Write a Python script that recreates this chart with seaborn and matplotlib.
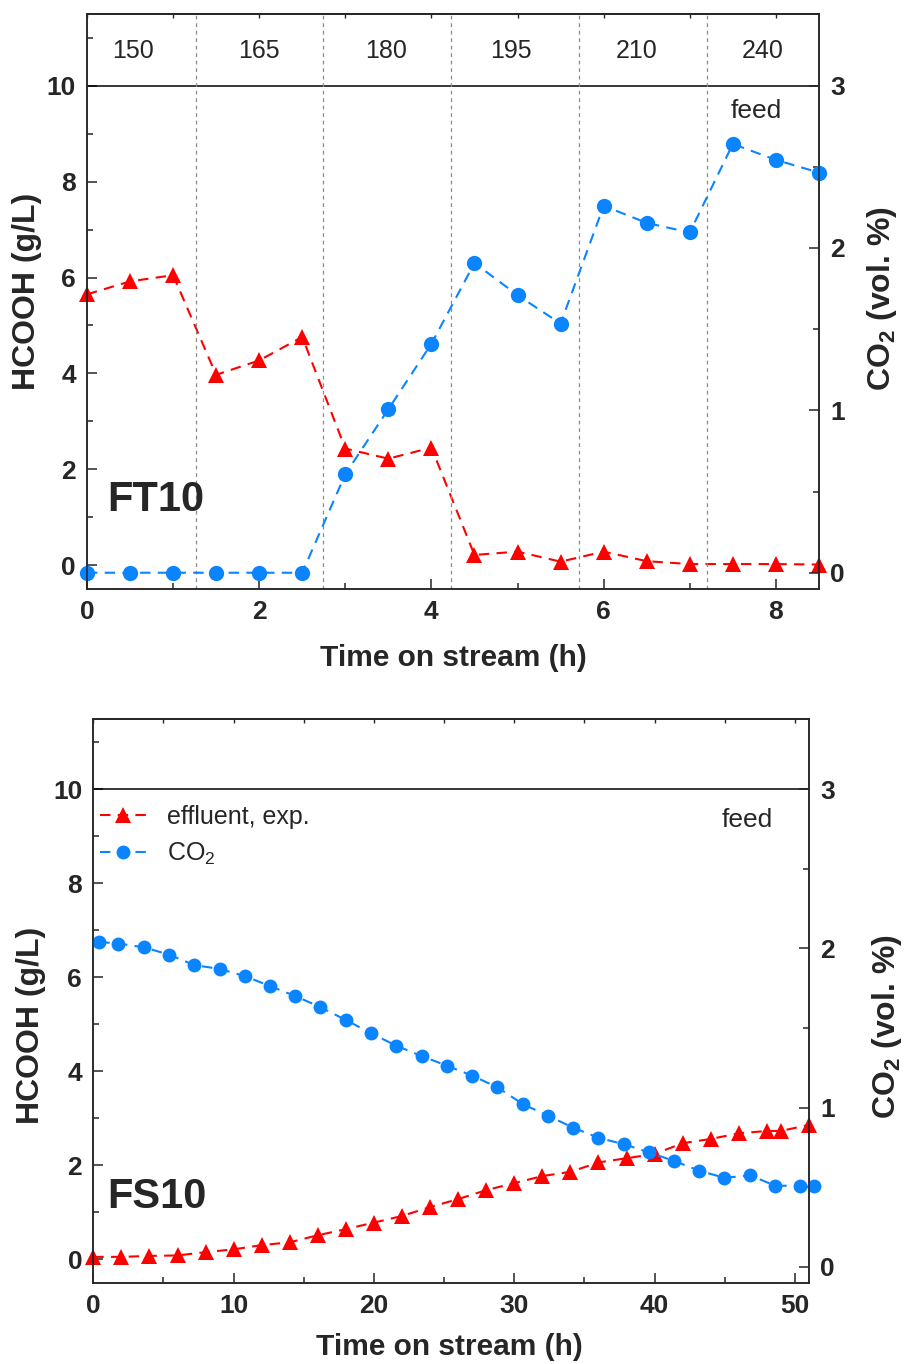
import numpy as np
import pandas as pd
import seaborn as sns
import matplotlib.pyplot as plt
from matplotlib.ticker import MultipleLocator, FixedLocator

# ---- FT10: stepwise temperature run (top panel) ----
ft_time = [0, 0.5, 1, 1.5, 2, 2.5, 3, 3.5, 4, 4.5, 5, 5.5, 6, 6.5, 7, 7.5, 8, 8.5]
ft_hcooh = [5.65, 5.92, 6.05, 3.97, 4.27, 4.76, 2.43, 2.22, 2.45, 0.21,
            0.28, 0.07, 0.28, 0.08, 0.02, 0.02, 0.02, 0.01]
ft_co2 = [0.0, 0.0, 0.0, 0.0, 0.0, 0.0, 0.607, 1.007, 1.41, 1.907,
          1.709, 1.534, 2.259, 2.154, 2.095, 2.64, 2.542, 2.464]
step_bounds = [1.265, 2.74, 4.23, 5.715, 7.2]
step_temps = ["150", "165", "180", "195", "210", "240"]
step_centers = [0.53, 2.0, 3.47, 4.92, 6.38, 7.85]

# ---- FS10: long run (bottom panel) ----
fs_time_h = [0, 2, 4, 6, 8, 10, 12, 14, 16, 18, 20, 22, 24, 26, 28, 30,
             32, 34, 36, 38, 40, 42, 44, 46, 48, 49, 51]
fs_hcooh = [0.05, 0.05, 0.07, 0.08, 0.15, 0.21, 0.30, 0.36, 0.51, 0.64,
            0.78, 0.92, 1.11, 1.28, 1.47, 1.62, 1.77, 1.86, 2.06, 2.15,
            2.24, 2.47, 2.56, 2.68, 2.73, 2.73, 2.86]
fs_time_c = [0.43, 1.78, 3.61, 5.4, 7.18, 9.0, 10.79, 12.57, 14.4, 16.18,
             17.99, 19.8, 21.6, 23.4, 25.19, 27.0, 28.8, 30.6, 32.39, 34.21,
             35.99, 37.8, 39.6, 41.41, 43.19, 44.97, 46.8, 48.6, 50.37, 51.36]
fs_co2 = [2.04, 2.03, 2.006, 1.96, 1.895, 1.87, 1.826, 1.763, 1.70, 1.63,
          1.55, 1.466, 1.388, 1.323, 1.263, 1.20, 1.127, 1.022, 0.949, 0.873,
          0.81, 0.77, 0.718, 0.664, 0.603, 0.559, 0.574, 0.509, 0.509, 0.509]

RED = "#FF0000"
BLUE = "#0A84FF"
DASH = (0, (5, 3.5))

sns.set_style("ticks")
plt.rcParams["font.family"] = ["Liberation Sans", "DejaVu Sans"]
plt.rcParams["font.weight"] = "bold"
plt.rcParams["axes.labelweight"] = "bold"
plt.rcParams["axes.linewidth"] = 1.1
plt.rcParams["mathtext.default"] = "regular"

fig = plt.figure(figsize=(9.05, 13.64), dpi=100)
ax_top = fig.add_axes([0.0961, 0.5682, 0.8088, 0.4215])
ax_bot = fig.add_axes([0.1031, 0.0596, 0.7908, 0.4133])


def draw(ax, t1, y1, t2, y2, ms_tri, ms_dot):
    ax2 = ax.twinx()
    sns.lineplot(x=t1, y=y1, ax=ax, color=RED, marker="^", markersize=ms_tri,
                 markeredgewidth=0, linestyle=DASH, linewidth=1.5,
                 clip_on=False, legend=False, label="effluent, exp.")
    sns.lineplot(x=t2, y=y2, ax=ax2, color=BLUE, marker="o", markersize=ms_dot,
                 markeredgewidth=0, linestyle=DASH, linewidth=1.5,
                 clip_on=False, legend=False, label="CO$_2$")
    ax.axhline(10, color="black", lw=1.1)
    ax.set_ylim(-0.5, 11.5)
    ax2.set_ylim(-0.1, 3.44)
    ax.set_yticks(range(0, 11, 2))
    ax.yaxis.set_minor_locator(FixedLocator([1, 3, 5, 7, 9, 11]))
    ax2.set_yticks([0, 1, 2, 3])
    ax2.yaxis.set_minor_locator(FixedLocator([0.5, 1.5, 2.5]))
    for a in (ax, ax2):
        a.tick_params(which="both", direction="in", width=1.1, top=False)
        a.tick_params(which="major", length=7, pad=8, labelsize=19)
        a.tick_params(which="minor", length=4)
        for s in a.spines.values():
            s.set_visible(True)
            s.set_linewidth(1.1)
    ax.set_ylabel("HCOOH (g/L)", fontsize=23)
    ax2.set_ylabel("CO$_2$ (vol. %)", fontsize=23)
    ax.set_xlabel("Time on stream (h)", fontsize=21.5)
    return ax2


# ---- top panel ----
ax2_top = draw(ax_top, ft_time, ft_hcooh, ft_time, ft_co2, 12, 11)
ax_top.set_xlim(0, 8.5)
ax_top.xaxis.set_major_locator(MultipleLocator(2))
ax_top.xaxis.set_minor_locator(MultipleLocator(1))
sec = ax_top.secondary_xaxis("top")
sec.set_xticks(np.arange(0, 9, 1))
sec.tick_params(direction="in", length=3, labeltop=False, width=1)
for b in step_bounds:
    ax_top.axvline(b, color="#8c8c8c", lw=0.9, ls=(0, (3, 3)))
for xc, tl in zip(step_centers, step_temps):
    ax_top.text(xc, 10.73, tl, ha="center", va="center", fontsize=18,
                fontweight="normal")
ax_top.text(7.77, 9.48, "feed", ha="center", va="center", fontsize=19,
            fontweight="normal")
ax_top.text(0.24, 1.35, "FT10", ha="left", va="center", fontsize=30)
ax_top.yaxis.set_label_coords(-0.0615, 0.518)
ax2_top.yaxis.set_label_coords(1.063, 0.505)
ax_top.xaxis.set_label_coords(0.5, -0.095)

# ---- bottom panel ----
ax2_bot = draw(ax_bot, fs_time_h, fs_hcooh, fs_time_c, fs_co2, 11, 10)
ax_bot.set_xlim(0, 51)
ax_bot.xaxis.set_major_locator(MultipleLocator(10))
ax_bot.xaxis.set_minor_locator(MultipleLocator(5))
sec = ax_bot.secondary_xaxis("top")
sec.set_xticks(np.arange(0, 51, 5))
sec.tick_params(direction="in", length=3, labeltop=False, width=1)
ax_bot.text(46.6, 9.35, "feed", ha="center", va="center", fontsize=19,
            fontweight="normal")
ax_bot.text(1.0, 1.32, "FS10", ha="left", va="center", fontsize=30)
ax_bot.yaxis.set_label_coords(-0.066, 0.457)
ax2_bot.yaxis.set_label_coords(1.085, 0.454)
ax_bot.xaxis.set_label_coords(0.498, -0.0889)

handles = [ax_bot.get_lines()[0], ax2_bot.get_lines()[0]]
leg = ax_bot.legend(handles=handles, labels=["effluent, exp.", "CO$_2$"],
                    loc="upper left", bbox_to_anchor=(0.009, 0.848),
                    frameon=False, fontsize=18, handlelength=1.85,
                    handletextpad=0.85, labelspacing=0.47, borderpad=0,
                    borderaxespad=0)
for t in leg.get_texts():
    t.set_fontweight("normal")

fig.savefig("out.png", dpi=100)
